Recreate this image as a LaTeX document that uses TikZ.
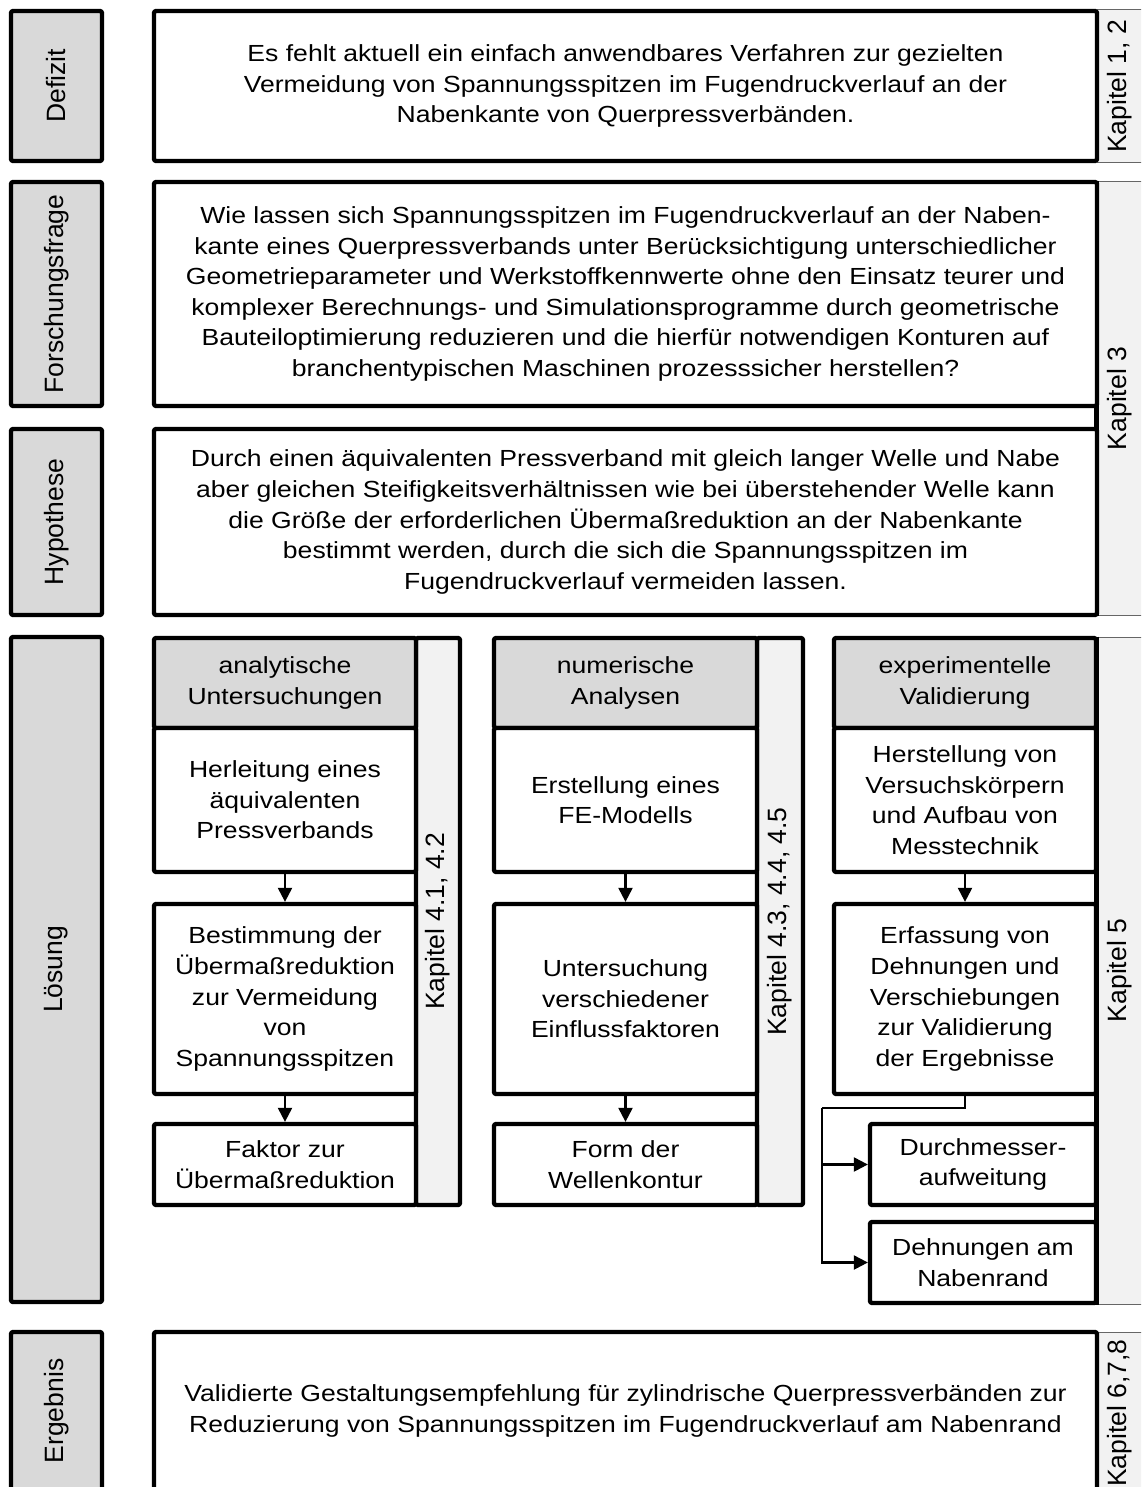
\documentclass[tikz,border=0pt]{standalone}
\usepackage{fontspec}
\setmainfont{Liberation Sans}[FakeStretch=1.14]
\newfontfamily\sidefamily{Liberation Sans}
\usepackage{graphicx}
\usepackage{xcolor}
\usepackage{tikz}
\usetikzlibrary{arrows.meta}
\definecolor{sidegray}{HTML}{D9D9D9}
\definecolor{bargray}{HTML}{F2F2F2}
\newcommand{\bodytext}{\fontsize{23.3}{30.6}\selectfont}
\newcommand{\sidetext}{\sidefamily\fontsize{26.5}{30}\selectfont}
\tikzset{
    base box/.style={
        draw,
        line width=4.3pt,
        line join=round,
        rounded corners=1.5pt,
        align=center,
        inner sep=0pt,
        fill=white,
        font=\bodytext
    },
    side box/.style={
        base box,
        fill=sidegray,
        minimum width=91pt,
        font=\sidetext
    },
    main box/.style={
        base box,
        minimum width=943pt
    },
    col cell/.style={
        base box,
        minimum width=262pt
    },
    head cell/.style={
        col cell,
        fill=sidegray,
        minimum height=90pt
    },
    chapter bar/.style={
        draw=black!60,
        line width=1pt,
        fill=bargray,
        inner sep=0pt,
        minimum width=46pt,
        font=\sidetext
    },
    column bar/.style={
        base box,
        fill=bargray,
        minimum height=567pt,
        font=\sidetext
    },
    flow/.style={
        -{Triangle[length=14pt,width=14pt]},
        line width=2.2pt
    },
    wire/.style={line width=2.2pt}
}

\begin{document}
\begin{tikzpicture}[x=1pt,y=-1pt]
  \useasboundingbox (0,0) rectangle (1141,1487);
  \clip (0,0) rectangle (1141,1487);

  % left column
  \foreach \n/\yc/\h/\t in {def/86/150/Defizit,frage/294/224/Forschungsfrage,hyp/522/186/Hypothese,loes/969.5/665/Lösung,erg/1411/158/Ergebnis}
    \node[side box, minimum height=\h pt] (side-\n) at (56.5,\yc) {\rotatebox{90}{\t}};

  % chapter bars on the right
  \foreach \n/\yc/\h/\t in {def/86.5/153/{Kapitel 1, 2},frage/398.5/433/{Kapitel 3},loes/970.5/667/{Kapitel 5},erg/1413/162/{Kapitel 6,7,8}}
    \node[chapter bar, minimum height=\h pt] (kap-\n) at (1120,\yc) {\rotatebox{90}{\t}};
  \foreach \n in {frage,loes}
    \draw[line width=4.3pt] (kap-\n.north west) -- (kap-\n.south west);

  \node[main box, minimum height=150pt] (def) at (625.5,86)
    {Es fehlt aktuell ein einfach anwendbares Verfahren zur gezielten\\
     Vermeidung von Spannungsspitzen im Fugendruckverlauf an der\\
     Nabenkante von Querpressverbänden.};
  \node[main box, minimum height=224pt] (frage) at (625.5,294)
    {Wie lassen sich Spannungsspitzen im Fugendruckverlauf an der Naben-\\
     kante eines Querpressverbands unter Berücksichtigung unterschiedlicher\\
     Geometrieparameter und Werkstoffkennwerte ohne den Einsatz teurer und\\
     komplexer Berechnungs- und Simulationsprogramme durch geometrische\\
     Bauteiloptimierung reduzieren und die hierfür notwendigen Konturen auf\\
     branchentypischen Maschinen prozesssicher herstellen?};
  \node[main box, minimum height=186pt] (hyp) at (625.5,522)
    {Durch einen äquivalenten Pressverband mit gleich langer Welle und Nabe\\
     aber gleichen Steifigkeitsverhältnissen wie bei überstehender Welle kann\\
     die Größe der erforderlichen Übermaßreduktion an der Nabenkante\\
     bestimmt werden, durch die sich die Spannungsspitzen im\\
     Fugendruckverlauf vermeiden lassen.};
  \node[main box, minimum height=158pt] (erg) at (625.5,1411)
    {Validierte Gestaltungsempfehlung für zylindrische Querpressverbänden zur\\
     Reduzierung von Spannungsspitzen im Fugendruckverlauf am Nabenrand};

  % solution columns
  \node[column bar, minimum width=44pt] (bar1) at (438,921.5) {\rotatebox{90}{Kapitel 4.1, 4.2}};
  \node[column bar, minimum width=46pt] (bar2) at (780,921.5) {\rotatebox{90}{Kapitel 4.3, 4.4, 4.5}};

  \node[head cell] (col1-head) at (285,683) {analytische\\Untersuchungen};
  \node[col cell, minimum height=144pt] (col1-1) at (285,800) {Herleitung eines\\äquivalenten\\Pressverbands};
  \node[col cell, minimum height=190pt] (col1-2) at (285,999) {Bestimmung der\\Übermaßreduktion\\zur Vermeidung\\von\\Spannungsspitzen};
  \node[col cell, minimum height=81pt] (col1-3) at (285,1164.5) {Faktor zur\\Übermaßreduktion};

  \node[head cell, minimum width=263pt] (col2-head) at (625.5,683) {numerische\\Analysen};
  \node[col cell, minimum width=263pt, minimum height=144pt] (col2-1) at (625.5,800) {Erstellung eines\\FE-Modells};
  \node[col cell, minimum width=263pt, minimum height=190pt] (col2-2) at (625.5,999) {Untersuchung\\verschiedener\\Einflussfaktoren};
  \node[col cell, minimum width=263pt, minimum height=81pt] (col2-3) at (625.5,1164.5) {Form der\\Wellenkontur};

  \node[head cell] (col3-head) at (965,683) {experimentelle\\Validierung};
  \node[col cell, minimum height=144pt] (col3-1) at (965,800) {Herstellung von\\Versuchskörpern\\und Aufbau von\\Messtechnik};
  \node[col cell, minimum height=190pt] (col3-2) at (965,999) {Erfassung von\\Dehnungen und\\Verschiebungen\\zur Validierung\\der Ergebnisse};
  \node[col cell, minimum width=226pt, minimum height=81pt] (res1) at (983,1164.5) {Durchmesser-\\aufweitung};
  \node[col cell, minimum width=226pt, minimum height=81pt] (res2) at (983,1262.5) {Dehnungen am\\Nabenrand};

  \foreach \c in {1,2,3}
    \draw[flow] (col\c-1.south) -- (col\c-2.north);
  \foreach \c in {1,2}
    \draw[flow] (col\c-2.south) -- (col\c-3.north);
  \coordinate (split) at (822,1108);
  \draw[wire] (col3-2.south) |- (split);
  \foreach \t in {res1,res2}
    \draw[flow] (split) |- (\t.west);
\end{tikzpicture}
\end{document}
